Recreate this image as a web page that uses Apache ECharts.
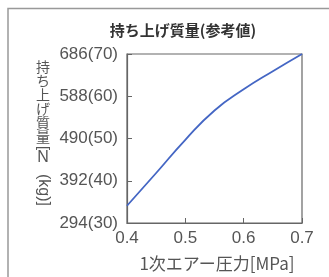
<!DOCTYPE html>
<html>
<head>
<meta charset="utf-8">
<script src="https://cdn.jsdelivr.net/npm/echarts@6/dist/echarts.min.js"></script>
<style>
  html, body { margin: 0; padding: 0; background: #fff; }
  #chart { width: 329px; height: 277px; }
</style>
</head>
<body>
<div id="chart"></div>
<script>
// 1次エアー圧力 [MPa]
const pressure = [0.4, 0.45, 0.5, 0.55, 0.6, 0.65, 0.7];
// 持ち上げ質量 [N]
const liftMass = [334, 410, 487, 555, 604, 646, 686];
const yTicks = ['294(30)', '392(40)', '490(50)', '588(60)', '686(70)'];

const labelFont = '"Liberation Sans Narrow", "Liberation Sans", sans-serif';
const cjkFont = '"Noto Sans CJK JP", sans-serif';

const chart = echarts.init(document.getElementById('chart'));

chart.setOption({
  animation: false,
  backgroundColor: '#fff',
  grid: {
    left: 127, right: 27, top: 54, bottom: 54,
    show: true, borderColor: '#666', borderWidth: 1.2,
  },
  xAxis: {
    type: 'value',
    min: 0.4, max: 0.7, interval: 0.1,
    axisLine: { lineStyle: { color: '#666', width: 1.2 } },
    axisTick: { inside: true, length: 5, lineStyle: { color: '#666' } },
    splitLine: { show: false },
    axisLabel: {
      margin: 7,
      color: '#555',
      fontFamily: labelFont,
      fontSize: 17,
      formatter: (v) => v.toFixed(1),
    },
  },
  yAxis: {
    type: 'value',
    min: 294, max: 686, interval: 98,
    axisLine: { show: true, lineStyle: { color: '#666', width: 1.2 } },
    axisTick: { show: true, inside: true, length: 5, lineStyle: { color: '#666' } },
    splitLine: { show: false },
    axisLabel: {
      margin: 9,
      color: '#555',
      fontFamily: labelFont,
      fontSize: 17,
      formatter: (v) => yTicks[Math.round((v - 294) / 98)],
    },
  },
  series: [
    {
      type: 'line',
      data: pressure.map((p, i) => [p, liftMass[i]]),
      smooth: 0.5,
      symbol: 'none',
      lineStyle: { color: '#4466c4', width: 1.8 },
    },
  ],
  graphic: [
    {
      type: 'rect',
      silent: true,
      shape: { x: 8, y: 8.5, width: 400, height: 400 },
      style: { fill: 'none', stroke: '#999', lineWidth: 1.5 },
    },
    {
      type: 'text',
      style: {
        x: 183, y: 30, text: '持ち上げ質量(参考値)',
        align: 'center', verticalAlign: 'middle',
        font: 'bold 15px ' + cjkFont, fill: '#333',
      },
    },
    {
      type: 'text',
      style: {
        x: 217, y: 264, text: '1次エアー圧力[MPa]',
        align: 'center', verticalAlign: 'middle',
        font: '17px ' + cjkFont, fill: '#555',
      },
    },
    {
      type: 'text',
      style: {
        x: 43, y: 60, text: '持\nち\n上\nげ\n質\n量',
        align: 'center', verticalAlign: 'top',
        font: '14px ' + cjkFont, lineHeight: 14, fill: '#555',
      },
    },
    {
      type: 'text',
      x: 43, y: 148, rotation: -Math.PI / 2,
      style: {
        x: 0, y: 0, text: '[',
        align: 'center', verticalAlign: 'middle',
        font: '15px ' + labelFont, fill: '#555',
      },
    },
    {
      type: 'text',
      style: {
        x: 43, y: 158, text: 'N',
        align: 'center', verticalAlign: 'middle',
        font: '16px ' + labelFont, fill: '#555',
      },
    },
    {
      type: 'text',
      x: 43, y: 190, rotation: -Math.PI / 2,
      style: {
        x: 0, y: 0, text: '(kg)]',
        align: 'center', verticalAlign: 'middle',
        font: '16px ' + labelFont, fill: '#555',
      },
    },
  ],
});
</script>
</body>
</html>
